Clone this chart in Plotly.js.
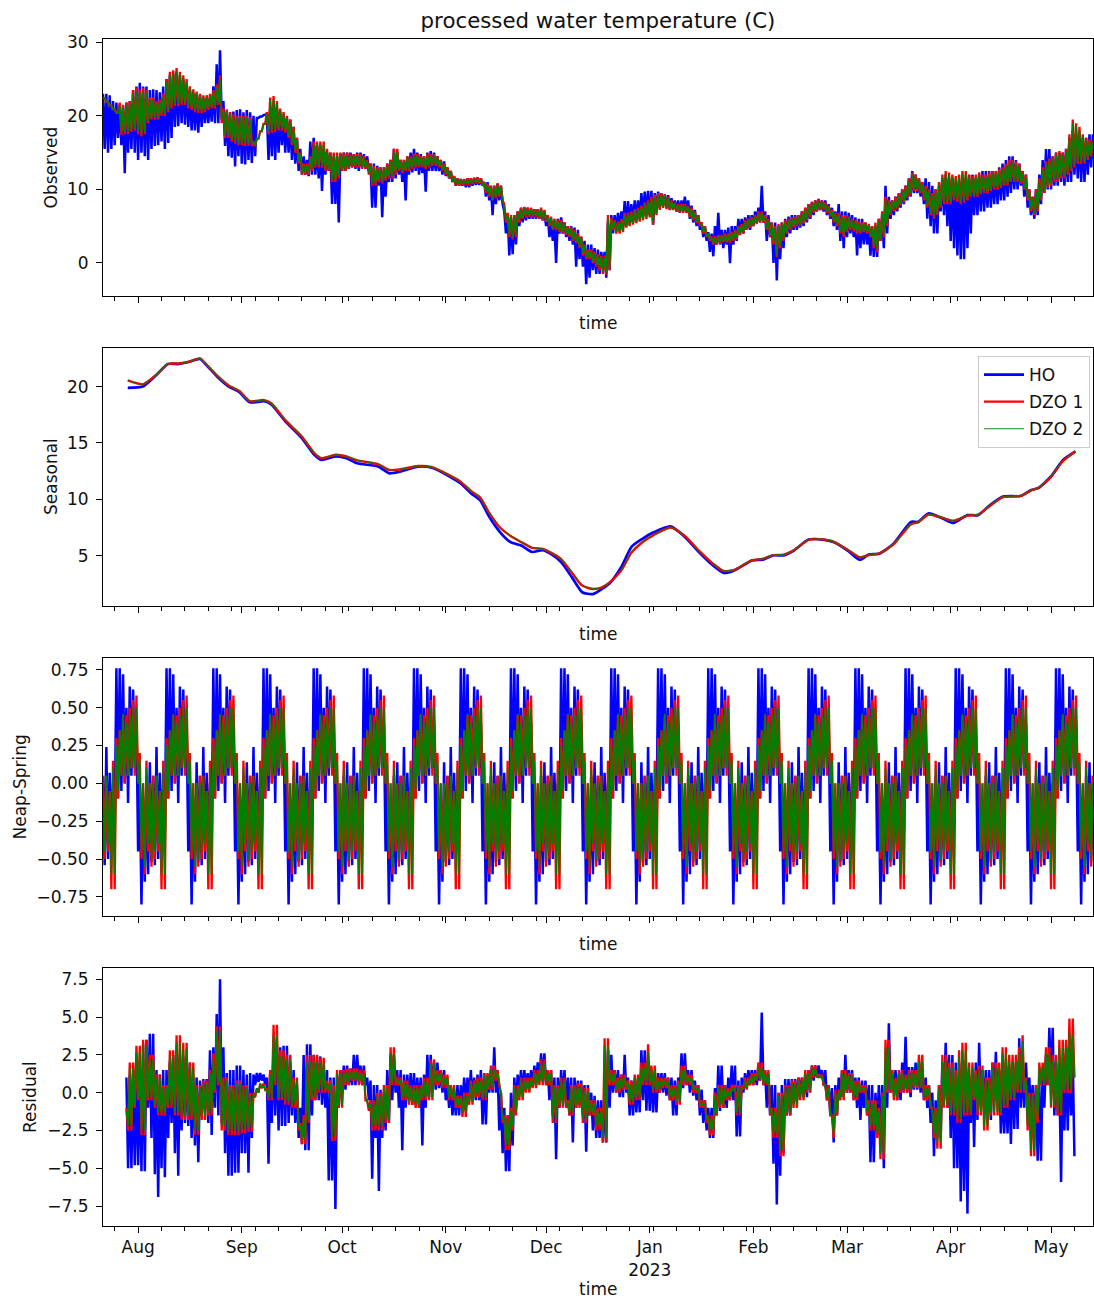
<!DOCTYPE html>
<html>
<head>
<meta charset="utf-8">
<script src="https://cdn.plot.ly/plotly-3.0.1.min.js"></script>
<style>
  html, body { margin: 0; padding: 0; background: #fff; }
  #chart { width: 1094px; height: 1300px; }
</style>
</head>
<body>
<div id="chart"></div>
<script>
// Decomposition of processed water temperature (C) by three methods: HO, DZO 1, DZO 2.
// Dense (tidal-rate) series are kept as daily highs and lows; index 0 is 2022-07-21 12:00.

// ---- Observed ----
const obsHOHigh = [
  23, 23, 22.8, 22, 21.8, 21.5, 21.3, 21.8, 22, 23.5,
  24, 24.5, 24, 24, 23.5, 23.6, 23.5, 23.2, 24, 25,
  25.5, 25.8, 26, 25.5, 25, 24, 23.5, 23.1, 23, 22.8,
  22.5, 22.2, 22.5, 24, 27, 28.9, 22, 20.6, 20.5, 20.6,
  20.8, 20.9, 20.5, 20.8, 20.5, 20, 19.7, 19.9, 20.1, 20.2,
  21, 21.5, 21, 20.5, 20, 19.7, 19.5, 18.5, 17, 15.5,
  14.5, 14, 16.5, 17, 16, 16, 15.5, 15, 15, 14.5,
  14.5, 14.8, 15, 15, 15, 14.8, 15, 15, 14.8, 14.5,
  13.5, 13.5, 13.2, 13, 13, 13.5, 14, 15.5, 15, 14,
  14, 14.5, 15, 15.5, 15, 14.8, 14.5, 15, 15.2, 15,
  14.5, 14, 13.8, 13, 12.5, 11.8, 11.5, 11.4, 11.3, 11.5,
  11.5, 11.5, 11.6, 11.5, 11, 11, 10.5, 10.5, 10.8, 10.5,
  7, 6.5, 6.2, 6.5, 7, 7.5, 7.5, 7.5, 7.3, 7.3,
  7.3, 7.2, 7, 6.5, 5.5, 5, 6, 6.2, 5.5, 5,
  5, 4.8, 4.5, 3.5, 3, 2.5, 2.5, 2, 1.8, 1.5,
  1.5, 5.5, 6.5, 6.5, 6.8, 7, 8.4, 8.4, 8, 8.5,
  8.5, 9.5, 9.7, 9.8, 9.8, 9.5, 9.7, 9.5, 9.3, 9.2,
  8.8, 8.5, 8.5, 8.5, 9, 8.5, 7.8, 7.2, 6.5, 5.5,
  5, 4.2, 4, 5, 6.8, 4.5, 4.5, 4.8, 5, 5,
  6, 6, 6.2, 6.5, 6.5, 7, 7.5, 10.5, 7, 6.5,
  5.5, 5.5, 5, 5.5, 6, 6.3, 6.5, 6.5, 6.5, 7,
  7.5, 8, 8.3, 8.5, 8.7, 8.5, 8.5, 8, 7.5, 7,
  8, 7, 7, 6.8, 6.5, 6.2, 6, 6, 5.5, 5,
  5, 5, 6, 6.5, 10.5, 9, 8.5, 9, 9.5, 10,
  10.5, 11.5, 12.5, 12, 11.5, 11, 11.5, 11, 10.5, 10,
  10.5, 11.5, 12, 11.5, 11.5, 11, 10.5, 11, 11.5, 12,
  12, 11.5, 12, 12.5, 12.5, 12.5, 12.5, 12.5, 13, 13.5,
  14, 14.5, 14.5, 14, 13.5, 12.5, 12, 10, 9, 10,
  12, 14, 15.5, 15.5, 14.5, 15, 15, 15, 15.5, 17,
  18, 17.5, 17.5, 17, 17, 17.5, 17.5
];
const obsHOLow = [
  15.5, 15, 15.5, 16, 17, 16, 12.2, 15, 15.5, 15,
  14, 15, 14.5, 14, 15.5, 15.9, 16, 16.5, 15.5, 16.3,
  17, 18.5, 18.6, 19, 18.8, 18.5, 18, 18, 17.7, 18.5,
  19, 19, 19.2, 19, 19, 19.5, 15.9, 14.5, 14.3, 13.1,
  14.5, 13.5, 13.4, 14, 13.6, 14.5, 19.7, 19.9, 20.1, 14,
  14.5, 14, 15, 16, 15, 15, 14, 13.5, 12.5, 12,
  12, 11.8, 12, 12, 11.5, 9.8, 12, 12.5, 8, 8,
  5.5, 12.5, 12.5, 12.8, 13, 12.8, 12.5, 13, 12.8, 12.5,
  7.5, 7.5, 10.5, 6.2, 9, 11, 11, 11.5, 12, 11,
  8.5, 12, 12.3, 12.5, 12, 12.2, 9.7, 12.5, 12.5, 12.5,
  12.5, 12, 11.8, 11.5, 11, 10.5, 10.5, 10.5, 10.3, 10.3,
  10.5, 10.6, 10.6, 10.5, 9, 8.5, 6.5, 8, 8.5, 8,
  4, 1, 1.2, 2.5, 5, 5.5, 5.8, 6, 6, 6,
  6, 5.8, 5, 3.5, 3, 0, 4, 4, 3.5, 3,
  2.5, -0.5, 0.5, -0.5, -2.9, -2, -1, -1.5, -1.5, -0.5,
  -2, -1, 4, 4.5, 4.5, 5, 5, 5.2, 5.5, 5.8,
  6, 6.5, 6.8, 6.5, 5.2, 7, 7.5, 7.8, 7.5, 7.2,
  7.3, 7, 6.8, 7, 6.8, 6, 5.5, 5, 4.5, 3.5,
  3, 1.5, 0.9, 2.5, 2.5, 2, 2.5, -0.05, 2.5, 3,
  4, 4, 4.5, 4.5, 5, 5.5, 5.5, 5.5, 3, 3.5,
  0, -2.4, 0.5, 2, 3.5, 4, 4.5, 4.5, 4.8, 5,
  5.5, 6, 6.5, 7, 7.2, 7, 6.5, 6, 5, 4.5,
  3, 2, 3.5, 4, 3.5, 1, 2, 2.5, 2.5, 1,
  0.8, 0.8, 3, 2, 4, 6, 6.5, 7, 7.5, 8,
  8.5, 9, 9.5, 9.5, 9, 8, 6, 5, 4, 4,
  7, 6.5, 5, 3, 2, 1, 0.5, 0.5, 2, 4,
  6.5, 6.5, 7, 7, 7.5, 7.5, 8, 8, 8.5, 8.5,
  9, 9.5, 10, 10, 10.5, 9, 7.5, 6.5, 6, 6.5,
  8, 9.5, 10, 10, 10.5, 10.5, 11, 10.5, 11, 11,
  12, 11.5, 11, 11, 12, 13, 13.5
];
const obsDZO1High = [
  22.4, 21.9, 21.4, 20.9, 20.4, 21.8, 21.5, 21.8, 22, 23.5,
  23.8, 23.5, 23.8, 23.5, 22.5, 22.5, 22, 22.2, 23, 25,
  26, 26.2, 26.5, 26, 25.5, 25, 24, 23.6, 23.3, 23,
  22.8, 22.8, 23, 23.5, 24.3, 25.5, 21, 20.9, 20.5, 20.2,
  20, 20, 20, 20, 19.8, 16.5, 16.9, 17.9, 18.9, 20.5,
  22.5, 22.7, 22, 21, 20.5, 20, 19.5, 18.5, 17, 15,
  13.5, 13.5, 14.5, 16.5, 16.5, 16.5, 16.5, 15.5, 15, 15,
  15, 15, 15, 15, 14.8, 14.8, 14.8, 14.8, 14.6, 14,
  13.5, 13.2, 13, 13, 13, 13.5, 14, 15.5, 15.5, 14,
  14, 14.5, 14.5, 14.8, 14.8, 14.5, 14.5, 14.8, 14.8, 14.8,
  14.5, 14, 13.5, 13, 12.5, 11.8, 11.5, 11.4, 11.4, 11.5,
  11.5, 11.6, 11.6, 11.5, 11, 10.8, 10.5, 10.5, 10.8, 10.5,
  8, 6.8, 6.5, 6.5, 7, 7.5, 7.6, 7.5, 7.5, 7.3,
  7.3, 7.5, 7.2, 6.5, 6.3, 6, 5.8, 5.8, 5.5, 5,
  4.9, 4.5, 4, 3.6, 2.5, 1.8, 1.8, 1.5, 1.2, 1,
  1, 6.5, 6.1, 5.8, 5.6, 6, 6.8, 6.8, 7, 7.3,
  7.5, 7.8, 8.2, 8.5, 9, 9.3, 9.5, 9.5, 9.3, 9,
  8.5, 8.2, 8, 8, 8, 7.7, 7.5, 7, 6.5, 5.5,
  5, 4, 3.6, 3.6, 3.8, 3.8, 4, 4, 4.2, 4.5,
  5, 5.3, 5.8, 6, 6.2, 6.5, 7, 7, 6.5, 6,
  5.5, 5, 5.3, 5.5, 5.8, 6, 6.2, 6.3, 6.5, 7,
  7.5, 8, 8.3, 8.5, 8.6, 8.5, 8.2, 7.8, 7.2, 6.8,
  6.8, 6.5, 6.5, 6.3, 6, 5.8, 5.6, 5.5, 5.5, 5.3,
  5, 5.5, 6, 7, 9, 8.5, 8.5, 9, 9.5, 10,
  10.5, 11.5, 12.3, 12, 11.5, 11, 10.5, 10, 9.5, 10,
  11, 12, 12.5, 12.3, 12, 11.8, 12, 12.5, 12.5, 12,
  11.8, 12, 12.3, 12, 12, 12.3, 12.5, 12.5, 12.8, 13,
  13.5, 14, 14, 13.8, 13.5, 12.5, 12, 10, 9, 10,
  11.5, 13, 13.8, 14.2, 14.5, 15, 15.2, 15, 15.5, 17.5,
  19.5, 19, 18.5, 17.5, 17, 16.8, 16.5
];
const obsDZO1Low = [
  22.4, 21.9, 21.4, 20.9, 20.4, 17.4, 17.5, 17.5, 17.8, 18,
  17.5, 17.2, 17.5, 19, 19.5, 19.5, 19.5, 20, 20, 20.5,
  21, 21.3, 21.3, 21.5, 21.5, 21, 20.8, 20.5, 20.4, 20.4,
  20.5, 20.8, 21, 21, 21.5, 19, 17, 17, 16.5, 16.2,
  16, 16, 15.9, 15.9, 15.9, 15.9, 16.9, 17.9, 18.9, 17.5,
  17.7, 17.8, 18, 18, 17.7, 17, 16, 15, 13.5, 12,
  12, 12, 12.5, 13, 13, 13, 12.5, 12.5, 11, 11,
  11.5, 12.5, 12.5, 12.8, 13, 13, 13, 12.8, 12.8, 12,
  10.5, 10.5, 11, 10.8, 11.2, 11.5, 11.5, 12, 12.5, 12.2,
  12.5, 12.5, 12.8, 13, 13, 13, 12.8, 13, 13.2, 13.2,
  13, 12.5, 12, 11.5, 11, 10.6, 10.5, 10.6, 10.6, 10.6,
  10.7, 10.8, 10.8, 10.5, 9.5, 9, 8.5, 8.8, 9, 8.5,
  5.5, 3.5, 3.2, 3.5, 5.5, 6, 6.2, 6.3, 6.3, 6.2,
  6, 5.8, 5.6, 5, 4.5, 4.5, 4.2, 4, 3.8, 3.5,
  3, 2.7, 2, 1, 0.5, 0.5, 0, -0.5, -1, -1.5,
  -1.6, -1, 4.5, 4, 4, 4.2, 4.8, 5, 5.2, 5.4,
  5.6, 5.8, 6, 6.2, 5.2, 6.5, 7.2, 7.5, 7.3, 7.2,
  7.2, 7, 6.9, 6.8, 6.8, 6.2, 5.8, 5.4, 5, 4,
  3.5, 3, 2.5, 2.5, 2.6, 2.8, 2.8, 2.7, 3, 3.2,
  3.8, 4, 4.5, 4.8, 5, 5.3, 5.5, 5.5, 4.5, 3.5,
  2.5, 0.8, 2, 3, 4, 4.5, 4.8, 5, 5, 5.3,
  5.8, 6.2, 6.8, 7, 7.2, 7.2, 6.8, 6.3, 5.5, 5,
  4, 3.5, 4.2, 4.5, 4.3, 4, 4, 4.2, 4, 3.5,
  2, 1.5, 3, 3.5, 5, 6.5, 7, 7.3, 7.8, 8.2,
  8.8, 9.2, 9.8, 9.8, 9.5, 8.5, 7.5, 6.5, 6, 6.5,
  7.5, 8, 8, 8, 8.5, 8.3, 8, 8.2, 8.5, 9,
  9, 9, 9.3, 9.5, 9.5, 9.8, 10, 10, 10.2, 10.5,
  10.5, 11, 11, 11, 10.8, 10, 8.5, 7, 6.5, 7,
  8.5, 9.5, 10.2, 10.5, 11, 11, 11.5, 11.5, 12, 12.5,
  13, 13.5, 13.5, 13.5, 14, 14.5, 14.5
];
const obsDZO2High = [
  22.4, 21.9, 21.4, 20.9, 20.4, 21.4, 21.2, 21.5, 21.7, 23.1,
  23.4, 23.2, 23.4, 23.2, 22.2, 22.2, 21.7, 21.9, 22.7, 24.6,
  25.6, 25.8, 26.1, 25.6, 25.2, 24.6, 23.7, 23.3, 23, 22.7,
  22.5, 22.5, 22.7, 23.2, 23.9, 25, 20.7, 20.6, 20.2, 19.9,
  19.7, 19.7, 19.7, 19.7, 19.5, 16.5, 16.9, 17.9, 18.9, 20.2,
  22.1, 22.3, 21.7, 20.7, 20.2, 19.7, 19.2, 18.2, 16.7, 14.7,
  13.3, 13.3, 14.2, 16.1, 16.2, 16.1, 16.1, 15.2, 14.7, 14.7,
  14.7, 14.7, 14.7, 14.7, 14.6, 14.6, 14.6, 14.6, 14.4, 13.8,
  13.2, 13, 12.8, 12.8, 12.8, 13.2, 13.7, 15.1, 15.1, 13.8,
  13.8, 14.2, 14.3, 14.6, 14.6, 14.3, 14.3, 14.6, 14.6, 14.6,
  14.3, 13.8, 13.3, 12.8, 12.3, 11.6, 11.3, 11.2, 11.2, 11.3,
  11.3, 11.4, 11.4, 11.3, 10.8, 10.6, 10.3, 10.3, 10.6, 10.3,
  7.7, 6.5, 6.3, 6.3, 6.8, 7.3, 7.4, 7.3, 7.3, 7.1,
  7.1, 7.3, 7, 6.3, 6.1, 5.8, 5.6, 5.6, 5.3, 4.8,
  4.7, 4.3, 3.8, 3.4, 2.3, 1.6, 1.6, 1.3, 1, 0.8,
  0.8, 6.2, 5.9, 5.6, 5.4, 5.8, 6.5, 6.6, 6.8, 7.1,
  7.3, 7.6, 8, 8.3, 8.7, 9, 9.2, 9.3, 9.1, 8.8,
  8.3, 8, 7.8, 7.8, 7.8, 7.5, 7.3, 6.8, 6.3, 5.3,
  4.8, 3.8, 3.4, 3.4, 3.6, 3.6, 3.8, 3.8, 4, 4.3,
  4.8, 5.1, 5.6, 5.8, 6, 6.3, 6.7, 6.7, 6.2, 5.7,
  5.2, 4.7, 5, 5.3, 5.6, 5.8, 6, 6.1, 6.3, 6.7,
  7.2, 7.7, 8, 8.3, 8.4, 8.3, 8, 7.6, 7, 6.6,
  6.5, 6.2, 6.2, 6.1, 5.8, 5.6, 5.4, 5.3, 5.3, 5.1,
  4.8, 5.2, 5.7, 6.7, 8.6, 8.3, 8.3, 8.7, 9.2, 9.7,
  10.2, 11.2, 12, 11.7, 11.2, 10.7, 10.2, 9.7, 9.2, 9.7,
  10.7, 11.6, 12.1, 12, 11.7, 11.5, 11.7, 12.1, 12.1, 11.7,
  11.5, 11.7, 12, 11.7, 11.7, 12, 12.2, 12.2, 12.5, 12.7,
  13.2, 13.6, 13.7, 13.5, 13.2, 12.2, 11.7, 9.7, 8.8, 9.7,
  11.2, 12.7, 13.5, 13.9, 14.2, 14.7, 14.9, 14.7, 15.2, 17,
  19, 18.6, 18.1, 17.2, 16.7, 16.5, 16.3
];
const obsDZO2Low = [
  22.4, 21.9, 21.4, 20.9, 20.4, 17.8, 17.8, 17.8, 18.1, 18.3,
  17.8, 17.5, 17.8, 19.3, 19.8, 19.8, 19.8, 20.3, 20.3, 20.8,
  21.3, 21.6, 21.6, 21.8, 21.8, 21.3, 21.1, 20.8, 20.7, 20.7,
  20.8, 21.1, 21.3, 21.3, 21.8, 19.4, 17.3, 17.3, 16.8, 16.5,
  16.3, 16.3, 16.2, 16.2, 16.2, 15.9, 16.9, 17.9, 18.9, 17.8,
  18, 18.1, 18.3, 18.3, 18, 17.3, 16.3, 15.3, 13.8, 12.3,
  12.3, 12.3, 12.8, 13.3, 13.3, 13.3, 12.8, 12.8, 11.3, 11.3,
  11.8, 12.8, 12.8, 13, 13.2, 13.2, 13.2, 13, 13, 12.3,
  10.8, 10.8, 11.3, 11.1, 11.5, 11.8, 11.8, 12.3, 12.7, 12.4,
  12.7, 12.7, 13, 13.2, 13.2, 13.2, 13, 13.2, 13.4, 13.4,
  13.2, 12.7, 12.2, 11.7, 11.2, 10.8, 10.7, 10.8, 10.8, 10.8,
  10.9, 11, 11, 10.7, 9.7, 9.2, 8.7, 9, 9.2, 8.7,
  5.8, 3.8, 3.5, 3.8, 5.8, 6.2, 6.4, 6.5, 6.5, 6.4,
  6.2, 6, 5.8, 5.2, 4.7, 4.7, 4.4, 4.2, 4, 3.7,
  3.2, 2.9, 2.2, 1.3, 0.8, 0.7, 0.2, -0.2, -0.7, -1.2,
  -1.3, -0.7, 4.7, 4.2, 4.2, 4.4, 5, 5.2, 5.4, 5.6,
  5.8, 6, 6.2, 6.4, 5.5, 6.7, 7.4, 7.7, 7.5, 7.4,
  7.4, 7.2, 7.1, 7, 7, 6.4, 6, 5.6, 5.2, 4.2,
  3.7, 3.2, 2.7, 2.7, 2.8, 3, 3, 2.9, 3.2, 3.4,
  4, 4.2, 4.7, 5, 5.2, 5.5, 5.7, 5.7, 4.7, 3.8,
  2.8, 1.1, 2.3, 3.2, 4.2, 4.7, 5, 5.2, 5.2, 5.5,
  6, 6.4, 7, 7.2, 7.4, 7.4, 7, 6.5, 5.7, 5.2,
  4.3, 3.8, 4.4, 4.7, 4.5, 4.2, 4.2, 4.4, 4.2, 3.7,
  2.3, 1.8, 3.3, 3.8, 5.3, 6.7, 7.2, 7.5, 8, 8.4,
  9, 9.4, 10, 10, 9.7, 8.8, 7.8, 6.8, 6.3, 6.8,
  7.8, 8.3, 8.3, 8.3, 8.8, 8.6, 8.3, 8.5, 8.8, 9.2,
  9.2, 9.2, 9.5, 9.7, 9.7, 10, 10.2, 10.2, 10.4, 10.7,
  10.7, 11.2, 11.2, 11.2, 11, 10.2, 8.8, 7.3, 6.8, 7.3,
  8.8, 9.8, 10.5, 10.8, 11.3, 11.3, 11.8, 11.8, 12.3, 12.8,
  13.3, 13.8, 13.8, 13.8, 14.2, 14.7, 14.7
];

// ---- Seasonal: sample times (days after 2022-07-21 12:00) and values ----
const seasonalDay = [
  7.4, 11.9, 16.2, 19.4, 22.6, 25.8, 29.0, 31.1, 34.4, 37.6,
  40.8, 43.9, 48.2, 50.4, 54.6, 59.4, 63.2, 65.3, 69.6, 72.8,
  76.0, 82.4, 85.6, 88.8, 94.2, 98.4, 103.8, 107.0, 110.2, 112.8,
  115.5, 118.7, 121.9, 125.1, 128.3, 131.5, 133.8, 137.0, 140.2, 143.3,
  146.5, 149.2, 151.8, 155.0, 158.1, 161.3, 164.5, 169.7, 174.0, 178.2,
  182.4, 185.6, 188.8, 194.1, 197.2, 200.4, 203.6, 206.7, 211.0, 215.2,
  218.4, 222.6, 226.3, 229.0, 232.1, 236.4, 241.6, 243.7, 246.9, 251.1,
  254.3, 258.5, 261.7, 264.9, 269.1, 274.4, 277.6, 279.7, 283.4, 287.1,
  290.8
];
const seasonalHO = [
  19.88, 20.0, 21.1, 22.0, 22.0, 22.2, 22.45, 21.85, 20.8, 20.0,
  19.5, 18.6, 18.7, 18.4, 16.9, 15.45, 13.95, 13.5, 13.8, 13.65,
  13.2, 12.9, 12.3, 12.45, 12.9, 12.8, 12.0, 11.4, 10.5, 9.9,
  8.45, 7.1, 6.2, 5.9, 5.33, 5.5, 5.18, 4.43, 3.1, 1.76,
  1.6, 2.05, 2.65, 4.0, 5.8, 6.5, 7.05, 7.6, 6.67, 5.33,
  4.14, 3.48, 3.7, 4.58, 4.64, 5.03, 5.03, 5.48, 6.43, 6.43,
  6.22, 5.48, 4.64, 5.1, 5.18, 6.07, 8.0, 8.0, 8.75, 8.3,
  7.9, 8.6, 8.6, 9.4, 10.24, 10.3, 10.83, 11.0, 12.0, 13.5,
  14.26
];
const seasonalDZO1 = [
  20.54, 20.2, 21.1, 22.0, 22.05, 22.2, 22.5, 21.9, 20.9, 20.1,
  19.6, 18.7, 18.8, 18.5, 17.0, 15.6, 14.1, 13.65, 13.95, 13.8,
  13.45, 13.1, 12.6, 12.65, 12.95, 12.85, 12.1, 11.55, 10.7, 10.15,
  8.8, 7.5, 6.75, 6.2, 5.7, 5.6, 5.3, 4.7, 3.5, 2.35,
  2.05, 2.2, 2.7, 3.7, 5.3, 6.2, 6.8, 7.5, 6.75, 5.45,
  4.3, 3.65, 3.75, 4.6, 4.72, 5.05, 5.1, 5.5, 6.4, 6.45,
  6.25, 5.55, 4.85, 5.05, 5.2, 6.0, 7.8, 7.95, 8.65, 8.35,
  8.1, 8.55, 8.65, 9.35, 10.2, 10.3, 10.8, 11.0, 11.95, 13.4,
  14.24
];
const seasonalDZO2 = [
  20.52, 20.2, 21.12, 22.02, 22.05, 22.22, 22.5, 21.92, 20.92, 20.12,
  19.62, 18.72, 18.8, 18.52, 17.02, 15.62, 14.12, 13.67, 13.97, 13.82,
  13.47, 13.12, 12.62, 12.67, 12.97, 12.87, 12.12, 11.57, 10.72, 10.17,
  8.82, 7.52, 6.78, 6.22, 5.72, 5.62, 5.32, 4.72, 3.52, 2.37,
  2.07, 2.22, 2.72, 3.72, 5.32, 6.22, 6.82, 7.52, 6.77, 5.47,
  4.32, 3.67, 3.77, 4.62, 4.74, 5.07, 5.12, 5.52, 6.42, 6.47,
  6.27, 5.57, 4.87, 5.07, 5.22, 6.02, 7.82, 7.97, 8.67, 8.37,
  8.12, 8.57, 8.67, 9.37, 10.22, 10.32, 10.82, 11.02, 11.97, 13.42,
  14.25
];

// ---- Neap-spring: one line per spring-neap cycle ----
const neapHOHigh = [
  0.05, 0.24, 0.07, 0.0, 0.76, 0.76, 0.72, 0.5, 0.64, 0.62, 0.4, 0.0, -0.1, 0.05,
  0.14, 0.05, 0.24, 0.07, 0.0, 0.76, 0.76, 0.72, 0.5, 0.64, 0.62, 0.4, 0.0, -0.1,
  0.14, 0.05, 0.24, 0.07, 0.0, 0.76, 0.76, 0.72, 0.5, 0.64, 0.62, 0.4, 0.0, -0.1, 0.05,
  0.14, 0.05, 0.24, 0.07, 0.0, 0.76, 0.76, 0.72, 0.5, 0.64, 0.62, 0.4, 0.0, -0.1, 0.05,
  0.14, 0.05, 0.24, 0.07, 0.0, 0.76, 0.76, 0.72, 0.5, 0.64, 0.62, 0.4, 0.0, -0.1, 0.05,
  0.14, 0.05, 0.24, 0.07, 0.0, 0.76, 0.76, 0.72, 0.5, 0.64, 0.62, 0.4, 0.0, -0.1, 0.05,
  0.14, 0.05, 0.24, 0.07, 0.0, 0.76, 0.76, 0.72, 0.5, 0.64, 0.62, 0.4, 0.0, -0.1,
  0.14, 0.05, 0.24, 0.07, 0.0, 0.76, 0.76, 0.72, 0.5, 0.64, 0.62, 0.4, 0.0, -0.1, 0.05,
  0.14, 0.05, 0.24, 0.07, 0.0, 0.76, 0.76, 0.72, 0.5, 0.64, 0.62, 0.4, 0.0, -0.1, 0.05,
  0.14, 0.05, 0.24, 0.07, 0.0, 0.76, 0.76, 0.72, 0.5, 0.64, 0.62, 0.4, 0.0, -0.1, 0.05,
  0.14, 0.05, 0.24, 0.07, 0.0, 0.76, 0.76, 0.72, 0.5, 0.64, 0.62, 0.4, 0.0, -0.1,
  0.14, 0.05, 0.24, 0.07, 0.0, 0.76, 0.76, 0.72, 0.5, 0.64, 0.62, 0.4, 0.0, -0.1, 0.05,
  0.14, 0.05, 0.24, 0.07, 0.0, 0.76, 0.76, 0.72, 0.5, 0.64, 0.62, 0.4, 0.0, -0.1, 0.05,
  0.14, 0.05, 0.24, 0.07, 0.0, 0.76, 0.76, 0.72, 0.5, 0.64, 0.62, 0.4, 0.0, -0.1, 0.05,
  0.14, 0.05, 0.24, 0.07, 0.0, 0.76, 0.76, 0.72, 0.5, 0.64, 0.62, 0.4, 0.0, -0.1,
  0.14, 0.05, 0.24, 0.07, 0.0, 0.76, 0.76, 0.72, 0.5, 0.64, 0.62, 0.4, 0.0, -0.1, 0.05,
  0.14, 0.05, 0.24, 0.07, 0.0, 0.76, 0.76, 0.72, 0.5, 0.64, 0.62, 0.4, 0.0, -0.1, 0.05,
  0.14, 0.05, 0.24, 0.07, 0.0, 0.76, 0.76, 0.72, 0.5, 0.64, 0.62, 0.4, 0.0, -0.1, 0.05,
  0.14, 0.05, 0.24, 0.07, 0.0, 0.76, 0.76, 0.72, 0.5, 0.64, 0.62, 0.4, 0.0, -0.1, 0.05,
  0.14, 0.05, 0.24, 0.07, 0.0, 0.76, 0.76, 0.72, 0.5, 0.64, 0.62, 0.4, 0.0, -0.1, 0.05, 0.14, 0.05
];
const neapHOLow = [
  -0.54, -0.5, -0.35, -0.3, -0.1, -0.05, 0.0, -0.13, 0.05, 0.1, -0.45, -0.8, -0.65, -0.6,
  -0.52, -0.54, -0.5, -0.35, -0.3, -0.1, -0.05, 0.0, -0.13, 0.05, 0.1, -0.45, -0.8, -0.65,
  -0.52, -0.54, -0.5, -0.35, -0.3, -0.1, -0.05, 0.0, -0.13, 0.05, 0.1, -0.45, -0.8, -0.65, -0.6,
  -0.52, -0.54, -0.5, -0.35, -0.3, -0.1, -0.05, 0.0, -0.13, 0.05, 0.1, -0.45, -0.8, -0.65, -0.6,
  -0.52, -0.54, -0.5, -0.35, -0.3, -0.1, -0.05, 0.0, -0.13, 0.05, 0.1, -0.45, -0.8, -0.65, -0.6,
  -0.52, -0.54, -0.5, -0.35, -0.3, -0.1, -0.05, 0.0, -0.13, 0.05, 0.1, -0.45, -0.8, -0.65, -0.6,
  -0.52, -0.54, -0.5, -0.35, -0.3, -0.1, -0.05, 0.0, -0.13, 0.05, 0.1, -0.45, -0.8, -0.65,
  -0.52, -0.54, -0.5, -0.35, -0.3, -0.1, -0.05, 0.0, -0.13, 0.05, 0.1, -0.45, -0.8, -0.65, -0.6,
  -0.52, -0.54, -0.5, -0.35, -0.3, -0.1, -0.05, 0.0, -0.13, 0.05, 0.1, -0.45, -0.8, -0.65, -0.6,
  -0.52, -0.54, -0.5, -0.35, -0.3, -0.1, -0.05, 0.0, -0.13, 0.05, 0.1, -0.45, -0.8, -0.65, -0.6,
  -0.52, -0.54, -0.5, -0.35, -0.3, -0.1, -0.05, 0.0, -0.13, 0.05, 0.1, -0.45, -0.8, -0.65,
  -0.52, -0.54, -0.5, -0.35, -0.3, -0.1, -0.05, 0.0, -0.13, 0.05, 0.1, -0.45, -0.8, -0.65, -0.6,
  -0.52, -0.54, -0.5, -0.35, -0.3, -0.1, -0.05, 0.0, -0.13, 0.05, 0.1, -0.45, -0.8, -0.65, -0.6,
  -0.52, -0.54, -0.5, -0.35, -0.3, -0.1, -0.05, 0.0, -0.13, 0.05, 0.1, -0.45, -0.8, -0.65, -0.6,
  -0.52, -0.54, -0.5, -0.35, -0.3, -0.1, -0.05, 0.0, -0.13, 0.05, 0.1, -0.45, -0.8, -0.65,
  -0.52, -0.54, -0.5, -0.35, -0.3, -0.1, -0.05, 0.0, -0.13, 0.05, 0.1, -0.45, -0.8, -0.65, -0.6,
  -0.52, -0.54, -0.5, -0.35, -0.3, -0.1, -0.05, 0.0, -0.13, 0.05, 0.1, -0.45, -0.8, -0.65, -0.6,
  -0.52, -0.54, -0.5, -0.35, -0.3, -0.1, -0.05, 0.0, -0.13, 0.05, 0.1, -0.45, -0.8, -0.65, -0.6,
  -0.52, -0.54, -0.5, -0.35, -0.3, -0.1, -0.05, 0.0, -0.13, 0.05, 0.1, -0.45, -0.8, -0.65, -0.6,
  -0.52, -0.54, -0.5, -0.35, -0.3, -0.1, -0.05, 0.0, -0.13, 0.05, 0.1, -0.45, -0.8, -0.65, -0.6, -0.52, -0.54
];
const neapDZO1High = [
  0.05, 0.05, -0.05, 0.15, 0.3, 0.35, 0.45, 0.45, 0.5, 0.55, 0.58, 0.2, 0.0, 0.15,
  0.0, 0.05, 0.05, -0.05, 0.15, 0.3, 0.35, 0.45, 0.45, 0.5, 0.55, 0.58, 0.2, 0.0,
  0.0, 0.05, 0.05, -0.05, 0.15, 0.3, 0.35, 0.45, 0.45, 0.5, 0.55, 0.58, 0.2, 0.0, 0.15,
  0.0, 0.05, 0.05, -0.05, 0.15, 0.3, 0.35, 0.45, 0.45, 0.5, 0.55, 0.58, 0.2, 0.0, 0.15,
  0.0, 0.05, 0.05, -0.05, 0.15, 0.3, 0.35, 0.45, 0.45, 0.5, 0.55, 0.58, 0.2, 0.0, 0.15,
  0.0, 0.05, 0.05, -0.05, 0.15, 0.3, 0.35, 0.45, 0.45, 0.5, 0.55, 0.58, 0.2, 0.0, 0.15,
  0.0, 0.05, 0.05, -0.05, 0.15, 0.3, 0.35, 0.45, 0.45, 0.5, 0.55, 0.58, 0.2, 0.0,
  0.0, 0.05, 0.05, -0.05, 0.15, 0.3, 0.35, 0.45, 0.45, 0.5, 0.55, 0.58, 0.2, 0.0, 0.15,
  0.0, 0.05, 0.05, -0.05, 0.15, 0.3, 0.35, 0.45, 0.45, 0.5, 0.55, 0.58, 0.2, 0.0, 0.15,
  0.0, 0.05, 0.05, -0.05, 0.15, 0.3, 0.35, 0.45, 0.45, 0.5, 0.55, 0.58, 0.2, 0.0, 0.15,
  0.0, 0.05, 0.05, -0.05, 0.15, 0.3, 0.35, 0.45, 0.45, 0.5, 0.55, 0.58, 0.2, 0.0,
  0.0, 0.05, 0.05, -0.05, 0.15, 0.3, 0.35, 0.45, 0.45, 0.5, 0.55, 0.58, 0.2, 0.0, 0.15,
  0.0, 0.05, 0.05, -0.05, 0.15, 0.3, 0.35, 0.45, 0.45, 0.5, 0.55, 0.58, 0.2, 0.0, 0.15,
  0.0, 0.05, 0.05, -0.05, 0.15, 0.3, 0.35, 0.45, 0.45, 0.5, 0.55, 0.58, 0.2, 0.0, 0.15,
  0.0, 0.05, 0.05, -0.05, 0.15, 0.3, 0.35, 0.45, 0.45, 0.5, 0.55, 0.58, 0.2, 0.0,
  0.0, 0.05, 0.05, -0.05, 0.15, 0.3, 0.35, 0.45, 0.45, 0.5, 0.55, 0.58, 0.2, 0.0, 0.15,
  0.0, 0.05, 0.05, -0.05, 0.15, 0.3, 0.35, 0.45, 0.45, 0.5, 0.55, 0.58, 0.2, 0.0, 0.15,
  0.0, 0.05, 0.05, -0.05, 0.15, 0.3, 0.35, 0.45, 0.45, 0.5, 0.55, 0.58, 0.2, 0.0, 0.15,
  0.0, 0.05, 0.05, -0.05, 0.15, 0.3, 0.35, 0.45, 0.45, 0.5, 0.55, 0.58, 0.2, 0.0, 0.15,
  0.0, 0.05, 0.05, -0.05, 0.15, 0.3, 0.35, 0.45, 0.45, 0.5, 0.55, 0.58, 0.2, 0.0, 0.15, 0.0, 0.05
];
const neapDZO1Low = [
  -0.5, -0.45, -0.7, -0.7, -0.1, 0.05, 0.0, 0.05, 0.1, 0.05, 0.0, -0.5, -0.6, -0.45,
  -0.55, -0.5, -0.45, -0.7, -0.7, -0.1, 0.05, 0.0, 0.05, 0.1, 0.05, 0.0, -0.5, -0.6,
  -0.55, -0.5, -0.45, -0.7, -0.7, -0.1, 0.05, 0.0, 0.05, 0.1, 0.05, 0.0, -0.5, -0.6, -0.45,
  -0.55, -0.5, -0.45, -0.7, -0.7, -0.1, 0.05, 0.0, 0.05, 0.1, 0.05, 0.0, -0.5, -0.6, -0.45,
  -0.55, -0.5, -0.45, -0.7, -0.7, -0.1, 0.05, 0.0, 0.05, 0.1, 0.05, 0.0, -0.5, -0.6, -0.45,
  -0.55, -0.5, -0.45, -0.7, -0.7, -0.1, 0.05, 0.0, 0.05, 0.1, 0.05, 0.0, -0.5, -0.6, -0.45,
  -0.55, -0.5, -0.45, -0.7, -0.7, -0.1, 0.05, 0.0, 0.05, 0.1, 0.05, 0.0, -0.5, -0.6,
  -0.55, -0.5, -0.45, -0.7, -0.7, -0.1, 0.05, 0.0, 0.05, 0.1, 0.05, 0.0, -0.5, -0.6, -0.45,
  -0.55, -0.5, -0.45, -0.7, -0.7, -0.1, 0.05, 0.0, 0.05, 0.1, 0.05, 0.0, -0.5, -0.6, -0.45,
  -0.55, -0.5, -0.45, -0.7, -0.7, -0.1, 0.05, 0.0, 0.05, 0.1, 0.05, 0.0, -0.5, -0.6, -0.45,
  -0.55, -0.5, -0.45, -0.7, -0.7, -0.1, 0.05, 0.0, 0.05, 0.1, 0.05, 0.0, -0.5, -0.6,
  -0.55, -0.5, -0.45, -0.7, -0.7, -0.1, 0.05, 0.0, 0.05, 0.1, 0.05, 0.0, -0.5, -0.6, -0.45,
  -0.55, -0.5, -0.45, -0.7, -0.7, -0.1, 0.05, 0.0, 0.05, 0.1, 0.05, 0.0, -0.5, -0.6, -0.45,
  -0.55, -0.5, -0.45, -0.7, -0.7, -0.1, 0.05, 0.0, 0.05, 0.1, 0.05, 0.0, -0.5, -0.6, -0.45,
  -0.55, -0.5, -0.45, -0.7, -0.7, -0.1, 0.05, 0.0, 0.05, 0.1, 0.05, 0.0, -0.5, -0.6,
  -0.55, -0.5, -0.45, -0.7, -0.7, -0.1, 0.05, 0.0, 0.05, 0.1, 0.05, 0.0, -0.5, -0.6, -0.45,
  -0.55, -0.5, -0.45, -0.7, -0.7, -0.1, 0.05, 0.0, 0.05, 0.1, 0.05, 0.0, -0.5, -0.6, -0.45,
  -0.55, -0.5, -0.45, -0.7, -0.7, -0.1, 0.05, 0.0, 0.05, 0.1, 0.05, 0.0, -0.5, -0.6, -0.45,
  -0.55, -0.5, -0.45, -0.7, -0.7, -0.1, 0.05, 0.0, 0.05, 0.1, 0.05, 0.0, -0.5, -0.6, -0.45,
  -0.55, -0.5, -0.45, -0.7, -0.7, -0.1, 0.05, 0.0, 0.05, 0.1, 0.05, 0.0, -0.5, -0.6, -0.45, -0.55, -0.5
];
const neapDZO2High = [
  0.0, 0.05, -0.05, 0.1, 0.25, 0.35, 0.46, 0.4, 0.45, 0.5, 0.5, 0.15, 0.0, 0.1,
  0.0, 0.0, 0.05, -0.05, 0.1, 0.25, 0.35, 0.46, 0.4, 0.45, 0.5, 0.5, 0.15, 0.0,
  0.0, 0.0, 0.05, -0.05, 0.1, 0.25, 0.35, 0.46, 0.4, 0.45, 0.5, 0.5, 0.15, 0.0, 0.1,
  0.0, 0.0, 0.05, -0.05, 0.1, 0.25, 0.35, 0.46, 0.4, 0.45, 0.5, 0.5, 0.15, 0.0, 0.1,
  0.0, 0.0, 0.05, -0.05, 0.1, 0.25, 0.35, 0.46, 0.4, 0.45, 0.5, 0.5, 0.15, 0.0, 0.1,
  0.0, 0.0, 0.05, -0.05, 0.1, 0.25, 0.35, 0.46, 0.4, 0.45, 0.5, 0.5, 0.15, 0.0, 0.1,
  0.0, 0.0, 0.05, -0.05, 0.1, 0.25, 0.35, 0.46, 0.4, 0.45, 0.5, 0.5, 0.15, 0.0,
  0.0, 0.0, 0.05, -0.05, 0.1, 0.25, 0.35, 0.46, 0.4, 0.45, 0.5, 0.5, 0.15, 0.0, 0.1,
  0.0, 0.0, 0.05, -0.05, 0.1, 0.25, 0.35, 0.46, 0.4, 0.45, 0.5, 0.5, 0.15, 0.0, 0.1,
  0.0, 0.0, 0.05, -0.05, 0.1, 0.25, 0.35, 0.46, 0.4, 0.45, 0.5, 0.5, 0.15, 0.0, 0.1,
  0.0, 0.0, 0.05, -0.05, 0.1, 0.25, 0.35, 0.46, 0.4, 0.45, 0.5, 0.5, 0.15, 0.0,
  0.0, 0.0, 0.05, -0.05, 0.1, 0.25, 0.35, 0.46, 0.4, 0.45, 0.5, 0.5, 0.15, 0.0, 0.1,
  0.0, 0.0, 0.05, -0.05, 0.1, 0.25, 0.35, 0.46, 0.4, 0.45, 0.5, 0.5, 0.15, 0.0, 0.1,
  0.0, 0.0, 0.05, -0.05, 0.1, 0.25, 0.35, 0.46, 0.4, 0.45, 0.5, 0.5, 0.15, 0.0, 0.1,
  0.0, 0.0, 0.05, -0.05, 0.1, 0.25, 0.35, 0.46, 0.4, 0.45, 0.5, 0.5, 0.15, 0.0,
  0.0, 0.0, 0.05, -0.05, 0.1, 0.25, 0.35, 0.46, 0.4, 0.45, 0.5, 0.5, 0.15, 0.0, 0.1,
  0.0, 0.0, 0.05, -0.05, 0.1, 0.25, 0.35, 0.46, 0.4, 0.45, 0.5, 0.5, 0.15, 0.0, 0.1,
  0.0, 0.0, 0.05, -0.05, 0.1, 0.25, 0.35, 0.46, 0.4, 0.45, 0.5, 0.5, 0.15, 0.0, 0.1,
  0.0, 0.0, 0.05, -0.05, 0.1, 0.25, 0.35, 0.46, 0.4, 0.45, 0.5, 0.5, 0.15, 0.0, 0.1,
  0.0, 0.0, 0.05, -0.05, 0.1, 0.25, 0.35, 0.46, 0.4, 0.45, 0.5, 0.5, 0.15, 0.0, 0.1, 0.0, 0.0
];
const neapDZO2Low = [
  -0.45, -0.4, -0.6, -0.6, -0.05, 0.05, 0.05, 0.05, 0.1, 0.1, 0.0, -0.45, -0.55, -0.4,
  -0.5, -0.45, -0.4, -0.6, -0.6, -0.05, 0.05, 0.05, 0.05, 0.1, 0.1, 0.0, -0.45, -0.55,
  -0.5, -0.45, -0.4, -0.6, -0.6, -0.05, 0.05, 0.05, 0.05, 0.1, 0.1, 0.0, -0.45, -0.55, -0.4,
  -0.5, -0.45, -0.4, -0.6, -0.6, -0.05, 0.05, 0.05, 0.05, 0.1, 0.1, 0.0, -0.45, -0.55, -0.4,
  -0.5, -0.45, -0.4, -0.6, -0.6, -0.05, 0.05, 0.05, 0.05, 0.1, 0.1, 0.0, -0.45, -0.55, -0.4,
  -0.5, -0.45, -0.4, -0.6, -0.6, -0.05, 0.05, 0.05, 0.05, 0.1, 0.1, 0.0, -0.45, -0.55, -0.4,
  -0.5, -0.45, -0.4, -0.6, -0.6, -0.05, 0.05, 0.05, 0.05, 0.1, 0.1, 0.0, -0.45, -0.55,
  -0.5, -0.45, -0.4, -0.6, -0.6, -0.05, 0.05, 0.05, 0.05, 0.1, 0.1, 0.0, -0.45, -0.55, -0.4,
  -0.5, -0.45, -0.4, -0.6, -0.6, -0.05, 0.05, 0.05, 0.05, 0.1, 0.1, 0.0, -0.45, -0.55, -0.4,
  -0.5, -0.45, -0.4, -0.6, -0.6, -0.05, 0.05, 0.05, 0.05, 0.1, 0.1, 0.0, -0.45, -0.55, -0.4,
  -0.5, -0.45, -0.4, -0.6, -0.6, -0.05, 0.05, 0.05, 0.05, 0.1, 0.1, 0.0, -0.45, -0.55,
  -0.5, -0.45, -0.4, -0.6, -0.6, -0.05, 0.05, 0.05, 0.05, 0.1, 0.1, 0.0, -0.45, -0.55, -0.4,
  -0.5, -0.45, -0.4, -0.6, -0.6, -0.05, 0.05, 0.05, 0.05, 0.1, 0.1, 0.0, -0.45, -0.55, -0.4,
  -0.5, -0.45, -0.4, -0.6, -0.6, -0.05, 0.05, 0.05, 0.05, 0.1, 0.1, 0.0, -0.45, -0.55, -0.4,
  -0.5, -0.45, -0.4, -0.6, -0.6, -0.05, 0.05, 0.05, 0.05, 0.1, 0.1, 0.0, -0.45, -0.55,
  -0.5, -0.45, -0.4, -0.6, -0.6, -0.05, 0.05, 0.05, 0.05, 0.1, 0.1, 0.0, -0.45, -0.55, -0.4,
  -0.5, -0.45, -0.4, -0.6, -0.6, -0.05, 0.05, 0.05, 0.05, 0.1, 0.1, 0.0, -0.45, -0.55, -0.4,
  -0.5, -0.45, -0.4, -0.6, -0.6, -0.05, 0.05, 0.05, 0.05, 0.1, 0.1, 0.0, -0.45, -0.55, -0.4,
  -0.5, -0.45, -0.4, -0.6, -0.6, -0.05, 0.05, 0.05, 0.05, 0.1, 0.1, 0.0, -0.45, -0.55, -0.4,
  -0.5, -0.45, -0.4, -0.6, -0.6, -0.05, 0.05, 0.05, 0.05, 0.1, 0.1, 0.0, -0.45, -0.55, -0.4, -0.5, -0.45
];

// ---- Residual (no values for the first 7 days) ----
const resHOHigh = [
  null, null, null, null, null, null, null,
  1.0, 1.1, 1.2, 1.3, 1.5, 3.2, 3.5, 3.9, 3.9, 1.5,
  1.2, 1.5, 1.5, 2.0, 2.5, 2.5, 2.5, 2.4, 2.4, 2.0,
  1.0, 1.0, 0.8, 0.9, 0.9, 2.8, 3.0, 5.2, 7.5, 3.0,
  1.3, 1.5, 1.5, 1.8, 1.8, 1.5, 1.2, 1.3, 1.2, 1.3,
  1.3, 1.2, 1.0, 1.3, 3.2, 3.2, 3.0, 3.1, 3.1, 2.0,
  1.5, 0.5, -1.0, 2.5, 3.2, 3.2, 2.5, 2.4, 2.4, 1.5,
  1.5, 1.0, 1.0, 1.2, 1.5, 1.8, 1.8, 1.6, 2.5, 2.5,
  1.8, 1.8, 1.0, 0.8, 0.5, 0.5, 0.2, 0.0, 1.5, 2.5,
  2.5, 1.5, 1.5, 1.2, 1.2, 1.3, 1.3, 1.0, 1.0, 1.2,
  2.5, 2.5, 2.0, 2.0, 1.5, 1.5, 0.5, 0.5, 0.0, 0.5,
  0.5, 1.0, 1.0, 1.5, 1.0, 1.2, 1.5, 1.3, 1.2, 1.5,
  3.0, 1.5, 0.0, -1.0, -1.5, 0.0, 1.0, 1.2, 1.5, 1.5,
  1.3, 1.5, 1.8, 2.0, 2.6, 2.6, 1.5, 1.5, 1.0, 1.0,
  1.5, 1.5, 1.0, 1.0, 1.0, 0.8, 0.8, 0.5, 0.5, 0.0,
  -0.2, -0.5, -0.5, -0.5, 2.8, 2.5, 1.5, 1.5, 1.2, 2.5,
  1.0, 0.8, 0.8, 1.0, 2.8, 2.8, 2.0, 1.5, 1.0, 1.3,
  1.3, 1.3, 1.0, 1.0, 0.8, 1.0, 2.6, 2.6, 1.5, 1.5,
  0.8, 0.5, 0.2, -0.5, -1.0, -1.0, 0.3, 1.8, 1.8, 0.5,
  1.0, 1.8, 1.8, 0.8, 1.0, 1.3, 1.5, 1.5, 1.5, 1.5,
  5.3, 1.5, 1.2, 0.5, 0.5, 0.0, 0.5, 0.9, 0.9, 0.9,
  0.9, 1.0, 1.0, 1.2, 1.5, 1.8, 1.8, 1.8, 1.5, 1.5,
  0.5, 0.3, 0.5, 1.0, 1.5, 2.5, 1.5, 1.5, 1.0, 1.0,
  0.8, 0.8, 0.5, 0.5, 0.0, 0.5, 0.5, 2.0, 4.6, 1.5,
  1.5, 1.2, 2.0, 3.7, 1.7, 1.7, 2.0, 2.0, 1.5, 1.0,
  0.5, 0.0, -0.5, 0.5, 2.0, 3.3, 2.5, 2.5, 2.0, 2.0,
  1.0, 2.0, 1.0, 1.5, 2.0, 3.3, 1.5, 1.5, 1.5, 2.0,
  2.7, 1.5, 0.5, 0.5, 1.0, 2.0, 2.0, 3.6, 2.0, 2.0,
  1.0, 0.5, 0.5, 0.5, 1.5, 2.5, 4.3, 4.3, 2.0, 1.0,
  1.5, 2.2, 2.2, 2.2
];
const resHOLow = [
  null, null, null, null, null, null, null,
  -5.0, -5.0, -4.8, -4.8, -5.2, -5.2, -1.0, -3.0, -5.4, -6.9,
  -5.0, -5.6, -3.0, -2.0, -4.0, -5.5, -2.5, -2.0, -2.2, -3.0,
  -3.5, -4.6, -1.5, -1.0, -2.0, -2.8, -1.0, -1.5, -2.0, -4.0,
  -5.5, -5.5, -5.3, -5.3, -4.0, -4.0, -5.3, -3.0, 0.5, 0.7,
  0.8, 0.5, -4.7, -2.0, -1.5, -2.5, -2.2, -2.2, -2.0, -1.5,
  -2.0, -3.0, -3.4, -3.8, -3.8, -1.5, -0.5, -0.5, -0.8, -1.0,
  -5.8, -5.8, -7.7, -1.0, 0.0, 0.2, 0.5, 0.5, 0.5, 0.8,
  0.5, 0.5, -0.5, -5.7, -3.0, -6.5, -3.0, -2.5, -2.0, -0.5,
  0.0, -1.0, -3.8, -1.0, -0.5, -0.8, -0.8, -1.0, -3.5, -1.0,
  -0.3, 0.0, 0.2, 0.3, 0.0, -0.5, -1.0, -1.5, -1.5, -1.5,
  -0.8, -0.8, -0.5, -0.5, -0.5, -0.5, -2.1, -2.1, 0.0, 0.0,
  0.0, -2.5, -4.0, -5.2, -5.2, -3.5, -1.0, 0.0, 0.0, 0.3,
  0.3, 0.5, 0.5, 0.8, 0.8, 0.5, -0.5, -1.5, -4.4, -1.0,
  -0.5, -1.0, -1.5, -3.3, -1.0, -0.8, -1.5, -3.9, -1.5, -2.5,
  -3.0, -3.0, -3.3, -3.3, -1.0, 0.0, 0.0, -0.3, -0.3, 0.0,
  -1.5, -1.5, -1.3, -1.3, -0.5, -1.2, -1.2, -1.3, -1.3, 0.0,
  0.0, -0.2, -0.5, -1.5, -1.5, 0.0, 0.3, 0.5, 0.0, -0.2,
  -0.5, -1.5, -2.0, -2.5, -3.0, -3.0, -1.5, -1.2, -1.0, -1.0,
  -0.5, -0.5, -2.9, -2.9, 0.0, 0.3, 0.5, 0.5, 0.5, 0.8,
  0.5, -1.0, -1.5, -4.7, -7.4, -5.5, -4.0, -1.5, -1.5, -0.5,
  -0.5, 0.0, -0.3, -0.3, 0.5, 0.8, 1.0, 1.0, 0.5, -0.5,
  -1.5, -3.3, -1.5, -0.3, -0.3, 0.0, 0.0, -0.5, -1.0, -1.8,
  -1.0, -1.5, -4.6, -4.6, -2.5, -3.0, -5.0, -1.0, 0.0, 0.0,
  -0.5, -0.5, 0.0, 0.0, -0.3, 0.2, 0.2, 0.0, -0.5, -1.0,
  -2.0, -4.2, -3.0, -3.0, -0.5, -1.0, -3.0, -5.0, -5.0, -7.2,
  -6.5, -8.0, -2.0, -3.6, -1.8, -1.0, -1.0, -1.8, -1.8, -0.5,
  -0.5, -2.7, -2.7, -2.7, -3.4, -2.4, -2.4, -1.0, -1.0, -0.5,
  -1.5, -2.5, -4.5, -4.5, -1.0, 0.5, 0.5, -1.5, -1.5, -5.9,
  -2.5, -2.5, -1.5, -4.2
];
const resDZO1High = [
  null, null, null, null, null, null, null,
  -1.0, 2.0, 2.0, 3.1, 3.1, 3.5, 3.5, 2.5, 2.5, 1.2,
  1.2, 0.5, 0.5, 2.8, 2.8, 3.8, 3.8, 3.3, 3.3, 2.0,
  2.0, 0.5, 0.5, 0.8, 0.8, 1.5, 2.6, 4.4, 4.4, 1.0,
  1.0, 0.5, 0.5, 0.8, 0.8, 0.5, 0.5, 0.0, 0.0, 0.3,
  0.6, 0.6, 0.3, 1.5, 4.5, 4.5, 2.8, 2.8, 2.5, 2.5,
  1.0, 1.0, -2.0, -1.5, 2.5, 2.5, 2.5, 2.5, 2.3, 2.3,
  0.8, 0.8, 0.5, 1.5, 1.5, 1.5, 1.6, 1.6, 1.6, 1.6,
  1.5, 1.5, -0.5, -0.5, -0.5, 0.0, 0.0, 0.5, 0.5, 3.0,
  3.0, 1.0, 1.0, 0.8, 0.8, 0.5, 0.5, 0.5, 0.5, 1.0,
  1.0, 2.2, 2.2, 1.5, 1.5, 1.2, 1.2, 0.5, 0.5, -0.2,
  -0.2, 0.0, 0.0, 0.8, 0.8, 1.0, 1.0, 1.3, 1.3, 1.8,
  1.8, 1.5, 0.0, -1.5, -1.5, -1.0, 0.5, 0.5, 1.0, 1.0,
  1.0, 1.0, 1.5, 1.5, 2.2, 2.2, 1.5, 1.5, 0.5, 0.5,
  1.0, 1.0, -0.5, 0.5, 0.5, 0.6, 0.6, 0.3, 0.3, -0.5,
  -0.5, -1.0, -1.0, 3.6, 3.6, 1.5, 1.5, 1.0, 1.2, 1.2,
  0.8, 0.8, 1.2, 1.2, 2.0, 2.0, 3.2, 1.8, 1.8, 1.0,
  1.0, 1.0, 1.0, 0.5, 0.5, 0.8, 1.8, 1.8, 1.2, 1.2,
  0.5, 0.5, -0.5, -0.5, -1.5, -1.5, 0.0, 0.5, 0.5, 0.5,
  0.3, 0.5, 0.5, 0.5, 0.5, 1.0, 1.0, 1.3, 1.3, 2.0,
  2.0, 1.5, 1.5, -1.0, -1.0, 0.0, 0.0, 0.5, 0.5, 0.8,
  0.8, 1.0, 1.0, 1.5, 1.5, 1.8, 1.8, 1.2, 1.2, 0.5,
  0.5, -1.5, 0.2, 0.2, 1.5, 1.5, 1.3, 1.3, 0.8, 0.8,
  0.5, 0.5, -0.5, -0.5, -0.5, -1.0, 0.0, 3.5, 3.5, 1.5,
  1.0, 1.5, 1.5, 1.2, 1.5, 1.5, 1.5, 2.5, 2.5, 0.5,
  0.5, -1.0, -1.0, 0.5, 2.5, 2.5, 2.0, 2.0, 1.5, 2.8,
  3.3, 3.3, 2.0, 2.0, 1.5, 1.8, 1.8, 1.0, 1.0, 2.0,
  2.0, 2.0, 3.0, 3.0, 2.5, 2.5, 2.5, 3.0, 3.8, 1.0,
  0.0, 0.0, 0.5, 2.0, 2.0, 3.0, 3.0, 2.5, 2.5, 3.5,
  3.5, 3.5, 4.9, 4.9
];
const resDZO1Low = [
  null, null, null, null, null, null, null,
  -2.5, -2.5, -1.0, -0.5, -2.8, -2.8, -0.5, -0.5, -1.0, -1.5,
  -1.5, -1.5, -1.0, -1.0, -1.5, -1.5, -1.8, -1.8, -1.8, -1.8,
  -2.8, -2.8, -1.8, -1.8, -1.5, -1.5, 0.0, 0.5, -2.5, -2.5,
  -2.8, -2.8, -2.8, -2.8, -2.7, -2.7, -2.6, -2.6, -0.3, 0.0,
  0.3, 0.2, -0.5, -0.5, 0.5, -0.5, -0.5, -0.8, -0.8, -1.0,
  -1.0, -2.5, -3.4, -3.4, -2.0, -0.5, -0.5, 0.0, 0.0, 0.0,
  0.0, -3.2, -3.2, -1.0, -1.0, 0.5, 0.5, 0.8, 0.8, 0.5,
  0.5, -0.5, -1.2, -2.5, -2.5, -2.5, -2.5, -2.0, -2.0, 0.5,
  0.5, 0.5, -0.5, -0.5, -0.8, -0.8, -1.0, -1.0, -0.5, -0.5,
  -0.5, -0.5, 0.5, 0.5, 0.3, 0.3, -0.5, -0.5, -1.0, -1.0,
  -1.6, -1.6, -0.8, -0.8, -0.3, -0.3, -0.5, -0.5, 0.2, 0.2,
  0.8, 0.5, -2.0, -3.8, -3.8, -2.5, -1.5, -0.5, -0.5, 0.0,
  0.0, 0.3, 0.3, 0.5, 0.5, 0.5, 0.5, -2.0, -2.0, -1.0,
  -1.0, -1.0, -1.5, -1.5, -1.0, -1.0, -2.0, -2.0, -1.5, -1.5,
  -2.5, -2.5, -3.3, -3.3, 0.5, 0.5, 0.0, 0.0, 0.2, 0.2,
  -0.8, -0.8, -0.5, -0.5, 0.5, 0.5, 0.5, 0.0, 0.0, 0.0,
  0.3, 0.3, -0.5, -0.5, -0.8, -0.8, 0.5, 0.5, 0.5, 0.0,
  0.0, -1.0, -1.0, -2.0, -2.8, -2.8, -1.5, -1.0, -1.0, -0.5,
  -0.5, 0.3, -1.5, -1.5, 0.2, 0.2, 0.5, 0.5, 0.8, 0.8,
  0.5, 0.5, -1.5, -3.0, -3.0, -4.2, -4.2, -1.5, -1.5, -1.0,
  -1.0, -0.5, -0.5, 0.0, 0.0, 1.0, 1.0, 1.0, 0.5, -0.5,
  -1.5, -3.0, -1.5, -0.5, -0.5, 0.0, 0.0, -0.5, -0.5, 0.0,
  0.0, -1.5, -2.5, -2.5, -3.0, -4.4, -4.4, 0.0, 0.0, -0.5,
  -0.5, 0.0, 0.0, 0.0, 0.0, 0.3, 0.3, 0.3, -0.5, -0.5,
  -1.0, -3.0, -3.7, -3.7, -1.0, -1.0, -1.5, -1.5, -2.0, -2.0,
  -1.5, -1.5, -1.5, -0.5, -1.5, -1.5, -2.5, -2.5, -1.5, -1.5,
  -1.5, -1.5, -1.0, -1.0, -0.5, -0.5, 0.0, 0.0, 0.0, -2.5,
  -4.2, -4.2, -2.0, 0.5, 0.5, 0.5, -1.0, -1.0, -1.5, -1.5,
  0.0, 0.0, 0.0, 1.0
];
const resDZO2High = [
  null, null, null, null, null, null, null,
  -1.2, 1.6, 1.7, 2.7, 2.7, 3.1, 3.1, 2.2, 2.2, 1.0,
  1.0, 0.3, 0.3, 2.4, 2.4, 3.3, 3.3, 2.9, 2.9, 1.7,
  1.7, 0.3, 0.3, 0.6, 0.6, 1.3, 2.3, 4.1, 4.1, 0.8,
  0.8, 0.3, 0.3, 0.6, 0.6, 0.3, 0.3, -0.2, -0.1, 0.3,
  0.6, 0.5, 0.1, 1.2, 3.8, 3.8, 2.4, 2.4, 2.2, 2.2,
  0.8, 0.8, -2.2, -1.7, 2.1, 2.1, 2.1, 2.1, 2.0, 2.0,
  0.6, 0.6, 0.3, 1.3, 1.3, 1.3, 1.4, 1.4, 1.4, 1.4,
  1.3, 1.3, -0.6, -0.7, -0.7, -0.2, -0.2, 0.3, 0.3, 2.6,
  2.6, 0.8, 0.8, 0.6, 0.6, 0.3, 0.3, 0.3, 0.3, 0.8,
  0.8, 1.9, 1.9, 1.3, 1.3, 1.0, 1.0, 0.3, 0.3, -0.3,
  -0.3, -0.2, -0.2, 0.6, 0.6, 0.8, 0.8, 1.1, 1.1, 1.5,
  1.5, 1.3, -0.2, -1.7, -1.7, -1.2, 0.3, 0.3, 0.8, 0.8,
  0.8, 0.8, 1.3, 1.3, 1.9, 1.9, 1.3, 1.3, 0.3, 0.3,
  0.8, 0.8, -0.7, 0.3, 0.3, 0.4, 0.4, 0.1, 0.1, -0.7,
  -0.7, -1.2, -1.2, 3.1, 3.1, 1.3, 1.3, 0.8, 1.0, 1.0,
  0.6, 0.6, 1.0, 1.0, 1.7, 1.7, 2.7, 1.5, 1.5, 0.8,
  0.8, 0.8, 0.8, 0.3, 0.3, 0.6, 1.5, 1.5, 1.0, 1.0,
  0.3, 0.3, -0.7, -0.7, -1.7, -1.7, -0.2, 0.3, 0.3, 0.3,
  0.1, 0.3, 0.3, 0.3, 0.3, 0.8, 0.8, 1.1, 1.1, 1.7,
  1.7, 1.3, 1.3, -1.2, -1.2, -0.2, -0.2, 0.3, 0.3, 0.6,
  0.6, 0.8, 0.8, 1.3, 1.3, 1.6, 1.6, 1.0, 1.0, 0.3,
  0.3, -1.7, 0.0, 0.0, 1.3, 1.3, 1.1, 1.1, 0.6, 0.6,
  0.3, 0.3, -0.7, -0.7, -0.7, -1.2, -0.2, 3.0, 3.0, 1.3,
  0.8, 1.3, 1.3, 1.0, 1.3, 1.3, 1.3, 2.1, 2.1, 0.3,
  0.3, -1.2, -1.2, 0.3, 2.1, 2.1, 1.7, 1.7, 1.3, 2.4,
  2.8, 2.8, 1.7, 1.7, 1.3, 1.5, 1.5, 0.8, 0.8, 1.7,
  1.7, 1.7, 2.6, 2.6, 2.1, 2.1, 2.1, 2.6, 3.4, 0.8,
  -0.2, -0.2, 0.3, 1.7, 1.7, 2.6, 2.6, 2.1, 2.1, 3.0,
  3.0, 3.0, 4.0, 3.8
];
const resDZO2Low = [
  null, null, null, null, null, null, null,
  -2.2, -2.2, -0.8, -0.3, -2.5, -2.5, -0.3, -0.3, -0.8, -1.3,
  -1.3, -1.3, -0.8, -0.8, -1.3, -1.3, -1.5, -1.5, -1.5, -1.5,
  -2.5, -2.5, -1.5, -1.5, -1.3, -1.3, 0.2, 0.7, -2.2, -2.2,
  -2.5, -2.5, -2.5, -2.5, -2.4, -2.4, -2.3, -2.3, -0.3, 0.0,
  0.3, 0.2, -0.3, -0.3, 0.7, -0.3, -0.3, -0.6, -0.6, -0.8,
  -0.8, -2.2, -3.1, -3.1, -1.8, -0.3, -0.3, 0.2, 0.2, 0.2,
  0.2, -2.9, -2.9, -0.8, -0.8, 0.7, 0.7, 0.9, 0.9, 0.7,
  0.7, -0.3, -1.0, -2.2, -2.2, -2.2, -2.2, -1.8, -1.8, 0.7,
  0.7, 0.7, -0.3, -0.3, -0.6, -0.6, -0.8, -0.8, -0.3, -0.3,
  -0.3, -0.3, 0.7, 0.7, 0.5, 0.5, -0.3, -0.3, -0.8, -0.8,
  -1.3, -1.3, -0.6, -0.6, -0.1, -0.1, -0.3, -0.3, 0.4, 0.4,
  1.0, 0.7, -1.7, -3.5, -3.5, -2.2, -1.3, -0.3, -0.3, 0.2,
  0.2, 0.5, 0.5, 0.7, 0.7, 0.7, 0.7, -1.7, -1.7, -0.8,
  -0.8, -0.8, -1.3, -1.3, -0.8, -0.8, -1.7, -1.7, -1.3, -1.3,
  -2.2, -2.2, -3.0, -3.0, 0.7, 0.7, 0.2, 0.2, 0.4, 0.4,
  -0.6, -0.6, -0.3, -0.3, 0.7, 0.7, 0.7, 0.2, 0.2, 0.2,
  0.5, 0.5, -0.3, -0.3, -0.6, -0.6, 0.7, 0.7, 0.7, 0.2,
  0.2, -0.8, -0.8, -1.7, -2.5, -2.5, -1.3, -0.8, -0.8, -0.3,
  -0.3, 0.1, -1.3, -1.3, 0.3, 0.3, 0.6, 0.6, 0.9, 0.9,
  0.6, 0.6, -1.3, -2.7, -2.7, -3.8, -3.8, -1.3, -1.3, -0.8,
  -0.8, -0.3, -0.3, 0.2, 0.2, 1.1, 1.1, 1.1, 0.6, -0.3,
  -1.3, -2.7, -1.3, -0.3, -0.3, 0.2, 0.2, -0.3, -0.3, 0.2,
  0.2, -1.3, -2.2, -2.2, -2.7, -4.0, -4.0, 0.2, 0.2, -0.3,
  -0.3, 0.2, 0.2, 0.2, 0.2, 0.4, 0.4, 0.4, -0.3, -0.3,
  -0.8, -2.7, -3.3, -3.3, -0.8, -0.8, -1.3, -1.3, -1.7, -1.7,
  -1.3, -1.3, -1.3, -0.3, -1.3, -1.3, -2.2, -2.2, -1.3, -1.3,
  -1.3, -1.3, -0.8, -0.8, -0.3, -0.3, 0.2, 0.2, 0.2, -2.2,
  -3.8, -3.8, -1.7, 0.6, 0.6, 0.6, -0.8, -0.8, -1.3, -1.3,
  0.2, 0.2, 0.2, 1.0
];

// ---- Axis ticks ----
const monthStarts = ['2022-08-01', '2022-09-01', '2022-10-01', '2022-11-01', '2022-12-01',
                     '2023-01-01', '2023-02-01', '2023-03-01', '2023-04-01', '2023-05-01'];
const monthLabels = ['Aug', 'Sep', 'Oct', 'Nov', 'Dec', 'Jan<br>2023', 'Feb', 'Mar', 'Apr', 'May'];
const obsTicks = [0, 10, 20, 30];
const seasonalTicks = [5, 10, 15, 20];
const neapTicks = [-0.75, -0.5, -0.25, 0, 0.25, 0.5, 0.75];
const neapTickText = ['\u22120.75', '\u22120.50', '\u22120.25', '0.00', '0.25', '0.50', '0.75'];
const resTicks = [-7.5, -5, -2.5, 0, 2.5, 5, 7.5];
const resTickText = ['\u22127.5', '\u22125.0', '\u22122.5', '0.0', '2.5', '5.0', '7.5'];

// ---------------------------------------------------------------------------
const START_MS = Date.UTC(2022, 6, 21, 12);
const DAY_MS = 86400000;
const toDate = d => new Date(START_MS + d * DAY_MS).toISOString().slice(0, 19).replace('T', ' ');

// Each day's high is placed at the start of the day and its low half a day later,
// so the line sweeps the whole daily range.
function dailyRange(high, low) {
  const x = [], y = [];
  for (let i = 0; i < high.length; i++) {
    x.push(toDate(i), toDate(i + 0.5));
    y.push(high[i], low[i]);
  }
  return { x, y };
}

const COLOR = { 'HO': '#0000ff', 'DZO 1': '#ff0000', 'DZO 2': '#008000' };
const FONT = 'DejaVu Sans, Liberation Sans, sans-serif';
const TEXT_COLOR = '#111';

function line(name, xy, panel, width, showlegend, extra) {
  const s = panel === 1 ? '' : String(panel);
  return Object.assign({
    type: 'scatter', mode: 'lines', name, legendgroup: name, showlegend,
    x: xy.x, y: xy.y, xaxis: 'x' + s, yaxis: 'y' + s,
    line: { color: COLOR[name], width },
    hoverinfo: 'x+y+name'
  }, extra || {});
}

const seasonalX = seasonalDay.map(toDate);
const smooth = (name, y, width) =>
  line(name, { x: seasonalX, y }, 2, width, true,
       { line: { color: COLOR[name], width, shape: 'spline', smoothing: 0.6 } });

const traces = [
  line('HO', dailyRange(obsHOHigh, obsHOLow), 1, 2.5, false),
  line('DZO 1', dailyRange(obsDZO1High, obsDZO1Low), 1, 2.3, false),
  line('DZO 2', dailyRange(obsDZO2High, obsDZO2Low), 1, 1.6, false),

  smooth('HO', seasonalHO, 2.7),
  smooth('DZO 1', seasonalDZO1, 2.4),
  smooth('DZO 2', seasonalDZO2, 0.9),

  line('HO', dailyRange(neapHOHigh, neapHOLow), 3, 2.5, false),
  line('DZO 1', dailyRange(neapDZO1High, neapDZO1Low), 3, 2.3, false),
  line('DZO 2', dailyRange(neapDZO2High, neapDZO2Low), 3, 1.6, false),

  line('HO', dailyRange(resHOHigh, resHOLow), 4, 2.5, false),
  line('DZO 1', dailyRange(resDZO1High, resDZO1Low), 4, 2.3, false),
  line('DZO 2', dailyRange(resDZO2High, resDZO2Low), 4, 1.6, false)
];

// ---- Figure geometry (pixels) ----
const W = 1094, H = 1300;
const M = { l: 103, r: 1, t: 39, b: 74 };
const plotH = H - M.t - M.b;
const panelsPx = [[39, 296], [348, 606], [658, 916], [968, 1226]];
const toPaperY = py => (H - M.b - py) / plotH;
const domains = panelsPx.map(([top, bot]) => [toPaperY(bot), toPaperY(top)]);

const axisBase = {
  showline: true, linecolor: '#000', linewidth: 1, mirror: true,
  ticks: 'outside', ticklen: 5, tickwidth: 1, tickcolor: '#000',
  showgrid: false, zeroline: false,
  tickfont: { family: FONT, size: 17, color: TEXT_COLOR }
};

function xAxis(panel) {
  const a = Object.assign({}, axisBase, {
    type: 'date',
    anchor: panel === 1 ? 'y' : 'y' + panel,
    domain: [0, 1],
    range: [toDate(0), toDate(296.05)],
    tickmode: 'array', tickvals: monthStarts, ticktext: monthLabels,
    ticklen: 6,
    showticklabels: panel === 4,
    ticklabelstandoff: 0,
    minor: {
      ticks: 'outside', ticklen: 3.5, tickwidth: 1, tickcolor: '#000',
      tickmode: 'linear', tick0: '2022-07-25', dtick: 7 * DAY_MS, showgrid: false
    }
  });
  if (panel !== 1) a.matches = 'x';
  return a;
}

function yAxis(panel, range, tickvals, ticktext) {
  const a = Object.assign({}, axisBase, {
    anchor: panel === 1 ? 'x' : 'x' + panel,
    domain: domains[panel - 1],
    range, tickmode: 'array', tickvals,
    ticklen: 6, ticklabelstandoff: 4
  });
  if (ticktext) a.ticktext = ticktext;
  return a;
}

const panelMidY = i => (domains[i][0] + domains[i][1]) / 2;
const yLabels = [['Observed', 51], ['Seasonal', 51], ['Neap-Spring', 19.5], ['Residual', 30]];
const timeLabelPx = [323, 634, 944, 1289];

const annotations = [];
yLabels.forEach(([text, px], i) => {
  annotations.push({
    text, xref: 'paper', yref: 'paper', x: 0, y: panelMidY(i),
    xshift: px - M.l, xanchor: 'center', yanchor: 'middle', textangle: -90,
    showarrow: false, font: { family: FONT, size: 17, color: TEXT_COLOR }
  });
});
timeLabelPx.forEach(py => {
  annotations.push({
    text: 'time', xref: 'paper', yref: 'paper', x: 0.5, y: toPaperY(py),
    xanchor: 'center', yanchor: 'middle', showarrow: false,
    font: { family: FONT, size: 17, color: TEXT_COLOR }
  });
});

const layout = {
  width: W, height: H,
  margin: M,
  paper_bgcolor: '#fff', plot_bgcolor: '#fff',
  font: { family: FONT, size: 17, color: TEXT_COLOR },
  title: {
    text: 'processed water temperature (C)',
    font: { family: FONT, size: 21.3, color: TEXT_COLOR },
    x: 0.5, xref: 'paper', xanchor: 'center',
    y: 1 - 21 / H, yref: 'container', yanchor: 'middle'
  },
  showlegend: true,
  legend: {
    x: (1090 - M.l) / (W - M.l - M.r), y: toPaperY(356),
    xanchor: 'right', yanchor: 'top',
    bgcolor: 'rgba(255,255,255,0.8)', bordercolor: '#cccccc', borderwidth: 1,
    font: { family: FONT, size: 17, color: TEXT_COLOR },
    traceorder: 'grouped', tracegroupgap: 2, itemwidth: 40
  },
  xaxis: xAxis(1), xaxis2: xAxis(2), xaxis3: xAxis(3), xaxis4: xAxis(4),
  yaxis: yAxis(1, [-4.5, 30.45], obsTicks),
  yaxis2: yAxis(2, [0.54, 23.42], seasonalTicks),
  yaxis3: yAxis(3, [-0.876, 0.828], neapTicks, neapTickText),
  yaxis4: yAxis(4, [-8.82, 8.25], resTicks, resTickText),
  annotations
};

Plotly.newPlot('chart', traces, layout, { staticPlot: true, displayModeBar: false });
</script>
</body>
</html>
